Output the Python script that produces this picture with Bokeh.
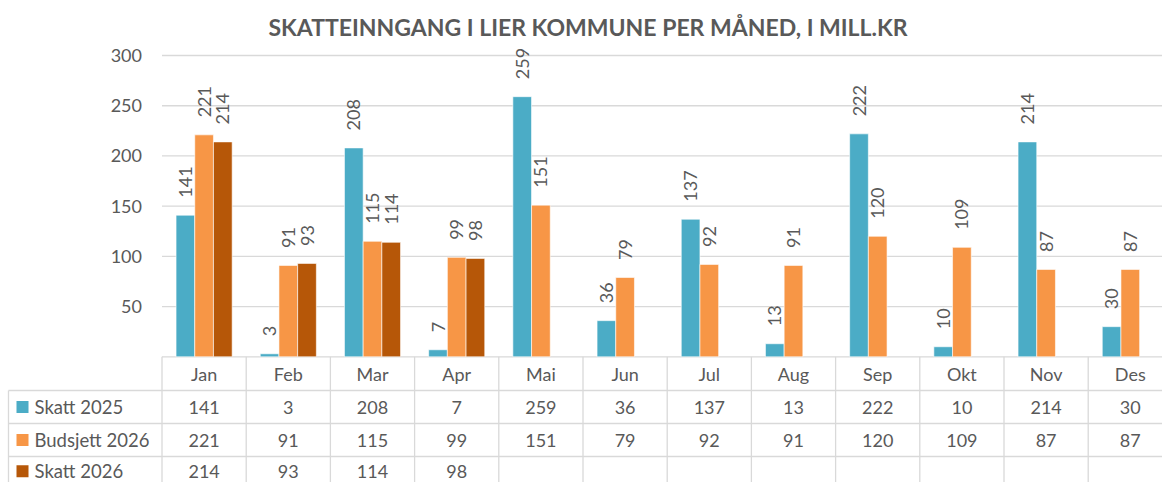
import math
from bokeh.plotting import figure
from bokeh.models import Range1d
from bokeh.embed import file_html
from bokeh.resources import INLINE
from bokeh.core.properties import value

# ---------------- data ----------------
title_text = "SKATTEINNGANG I LIER KOMMUNE PER MÅNED, I MILL.KR"
months = ["Jan", "Feb", "Mar", "Apr", "Mai", "Jun", "Jul", "Aug", "Sep", "Okt", "Nov", "Des"]
series_names = ["Skatt 2025", "Budsjett 2026", "Skatt 2026"]
skatt_2025 = [141, 3, 208, 7, 259, 36, 137, 13, 222, 10, 214, 30]
budsjett_2026 = [221, 91, 115, 99, 151, 79, 92, 91, 120, 109, 87, 87]
skatt_2026 = [214, 93, 114, 98, None, None, None, None, None, None, None, None]
y_ticks = [50, 100, 150, 200, 250, 300]

# ---------------- style ----------------
colors = ["#4BACC6", "#F79646", "#B65708"]
text_color = "#595959"
line_color = "#D9D9D9"
FONT = "Lato"

W, H = 1162, 482
UX = 84.2          # px per category
X0 = 161.5         # px of left edge of first category
UY = 1.0043        # px per unit of value
Y0 = 356.3         # px of value 0


def px_x(px):
    return -0.5 + (px - X0) / UX


def px_y(py):
    return (Y0 - py) / UY


p = figure(width=W, height=H, output_backend="svg", toolbar_location=None,
           x_range=Range1d(px_x(0), px_x(W)), y_range=Range1d(px_y(H), px_y(0)),
           x_axis_location=None, y_axis_location=None, min_border=0)
p.outline_line_color = None
p.background_fill_color = "white"
p.border_fill_color = "white"
for g in p.grid:
    g.visible = False

x_right = px_x(W) + 1
x_left_table = px_x(8)
y_bottom = px_y(H) - 2

# gridlines
p.segment(x0=[-0.5] * len(y_ticks), x1=[x_right] * len(y_ticks), y0=y_ticks, y1=y_ticks,
          line_color=line_color, line_width=1.3)
# axis / table top line
p.segment(x0=[-0.5], x1=[x_right], y0=[0], y1=[0], line_color=line_color, line_width=1.3)

# y tick labels
p.text(x=[px_x(141.5)] * len(y_ticks), y=y_ticks, text=[str(t) for t in y_ticks],
       text_align="right", text_baseline="middle", text_font=value(FONT),
       text_font_size="18px", text_color=text_color)

# bars and data labels
n = len(months)
bw = 18.7 / UX
all_series = [skatt_2025, budsjett_2026, skatt_2026]
for s, (vals, col) in enumerate(zip(all_series, colors)):
    off = (s - 1) * bw
    xs = [i + off for i in range(n) if vals[i] is not None]
    ys = [vals[i] for i in range(n) if vals[i] is not None]
    p.vbar(x=xs, top=ys, bottom=0, width=bw, fill_color=col,
           line_color="white", line_alpha=0.6, line_width=1)
    p.text(x=xs, y=[v + 17.5 / UY for v in ys], text=[str(v) for v in ys],
           angle=math.pi / 2, text_align="left", text_baseline="middle",
           text_font=value(FONT), text_font_size="18px", text_color=text_color)

# ---------------- data table ----------------
row_lines = [px_y(390), px_y(423), px_y(456)]
p.segment(x0=[x_left_table] * 3, x1=[x_right] * 3, y0=row_lines, y1=row_lines,
          line_color=line_color, line_width=1.3)
# vertical lines at category boundaries
bx = [i - 0.5 for i in range(n + 1)]
p.segment(x0=bx, x1=bx, y0=[0] * len(bx), y1=[y_bottom] * len(bx),
          line_color=line_color, line_width=1.3)
# left border of legend column
p.segment(x0=[x_left_table], x1=[x_left_table], y0=[row_lines[0]], y1=[y_bottom],
          line_color=line_color, line_width=1.3)

# month header
p.text(x=list(range(n)), y=[px_y(373)] * n, text=months, text_align="center",
       text_baseline="middle", text_font=value(FONT), text_font_size="18px",
       text_color=text_color)

row_centers = [px_y(406.5), px_y(439.5), px_y(470.8)]
for r, (vals, col, name) in enumerate(zip(all_series, colors, series_names)):
    p.scatter(x=[px_x(22)], y=[row_centers[r]], marker="square", size=12,
              fill_color=col, line_color=None)
    p.text(x=[px_x(34)], y=[row_centers[r]], text=[name], text_align="left",
           text_baseline="middle", text_font=value(FONT), text_font_size="18.5px",
           text_color=text_color)
    xs = [i for i in range(n) if vals[i] is not None]
    p.text(x=xs, y=[row_centers[r]] * len(xs), text=[str(vals[i]) for i in xs],
           text_align="center", text_baseline="middle", text_font=value(FONT),
           text_font_size="18px", text_color=text_color)

# title
p.text(x=[px_x(587.5)], y=[px_y(26)], text=[title_text], text_align="center",
       text_baseline="middle", text_font=value(FONT), text_font_size="23px",
       text_font_style="bold", text_color=text_color)

open("out.html", "w").write(file_html(p, INLINE))
